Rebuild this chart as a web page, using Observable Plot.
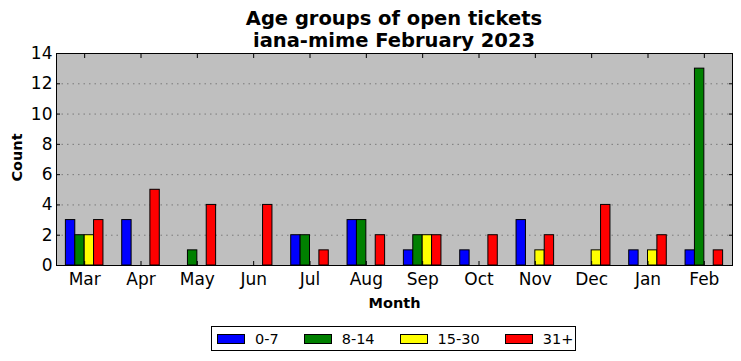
<!DOCTYPE html>
<html>
<head>
<meta charset="utf-8">
<script src="https://cdn.jsdelivr.net/npm/d3@7"></script>
<script src="https://cdn.jsdelivr.net/npm/@observablehq/plot@0.6"></script>
<style>
  body { margin: 0; background: #fff; font-family: "DejaVu Sans", sans-serif; }
  #wrap { position: relative; width: 741px; height: 361px; overflow: hidden; }
  #title { position: absolute; left: 56px; width: 676px; top: 8px; text-align: center;
           font-weight: bold; font-size: 19.5px; line-height: 22px; color: #000; white-space: nowrap; }
  #chart { position: absolute; left: 0; top: 0; }
  #legend { position: absolute; left: 211px; top: 326px; width: 363px; height: 23px;
            border: 1px solid #000; display: flex; align-items: center; box-sizing: content-box;
            font-size: 14.5px; white-space: nowrap; }
  .item { display: flex; align-items: center; flex-shrink: 0; margin-left: 5px; margin-right: 20px; }
  .sw { width: 26px; height: 8px; border: 1px solid #000; margin-right: 10px; flex-shrink: 0; }
</style>
</head>
<body>
<div id="wrap">
  <div id="chart"></div>
  <div id="title">Age groups of open tickets<br>iana-mime February 2023</div>
  <div id="legend"></div>
</div>
<script>
const months = ["Mar","Apr","May","Jun","Jul","Aug","Sep","Oct","Nov","Dec","Jan","Feb"];
const groups = ["0-7","8-14","15-30","31+"];
const colors = ["#0000ff","#008000","#ffff00","#ff0000"];
const v0_7   = [3,3,0,0,2,3,1,1,3,0,1,1];
const v8_14  = [2,0,1,0,2,3,2,0,0,0,0,13];
const v15_30 = [2,0,0,0,0,0,2,0,1,1,1,0];
const v31    = [3,5,4,4,1,2,2,2,2,4,2,1];
const yTicks = [0,2,4,6,8,10,12,14];

const series = [v0_7, v8_14, v15_30, v31];
const rows = months.flatMap((m, i) => groups.map((g, k) => ({month: m, i, group: g, k, value: series[k][i]})));
const xTicks = months.map((m, i) => i + 0.5);

const font = "DejaVu Sans";
const plot = Plot.plot({
  width: 741,
  height: 320,
  marginTop: 53,
  marginBottom: 55,
  marginLeft: 56,
  marginRight: 9,
  style: {fontFamily: font, fontSize: "17px", color: "#000", background: "transparent"},
  x: {domain: [0, 12], axis: null},
  y: {domain: [0, 14], axis: null},
  color: {domain: groups, range: colors},
  marks: [
    Plot.frame({fill: "#bfbfbf"}),
    Plot.ruleY(yTicks.slice(1, -1), {stroke: "#7a7a7a", strokeWidth: 1, strokeDasharray: "1.5,4"}),
    Plot.rect(rows, {
      x1: d => d.i + (d.k + 1) / 6,
      x2: d => d.i + (d.k + 2) / 6,
      y1: 0,
      y2: "value",
      fill: "group",
      stroke: "#000",
      strokeWidth: 1
    }),
    Plot.axisX({anchor: "bottom", ticks: xTicks, tickFormat: d => months[Math.round(d - 0.5)], tickSize: -4, tickPadding: 11, fontSize: 17, label: null}),
    Plot.axisX({anchor: "top", ticks: xTicks, tickFormat: () => "", tickSize: -4, label: null}),
    Plot.axisY({anchor: "left", ticks: yTicks, tickSize: -4, tickPadding: 8, fontSize: 17, label: null}),
    Plot.axisY({anchor: "right", ticks: yTicks, tickFormat: () => "", tickSize: -4, label: null}),
    Plot.frame({stroke: "#000", strokeWidth: 1}),
    Plot.text(["Month"], {frameAnchor: "bottom", dy: 38, text: d => d, fontWeight: "bold", fontSize: 14.5, lineAnchor: "middle"}),
    Plot.text(["Count"], {frameAnchor: "left", dx: -39.5, dy: -2, text: d => d, fontWeight: "bold", fontSize: 14.5, rotate: -90, lineAnchor: "middle", textAnchor: "middle"})
  ]
});
document.getElementById("chart").appendChild(plot);

const legend = document.getElementById("legend");
groups.forEach((g, k) => {
  const it = document.createElement("div");
  it.className = "item";
  const sw = document.createElement("div");
  sw.className = "sw";
  sw.style.background = colors[k];
  const lab = document.createElement("span");
  lab.textContent = g;
  it.appendChild(sw);
  it.appendChild(lab);
  legend.appendChild(it);
});
</script>
</body>
</html>
